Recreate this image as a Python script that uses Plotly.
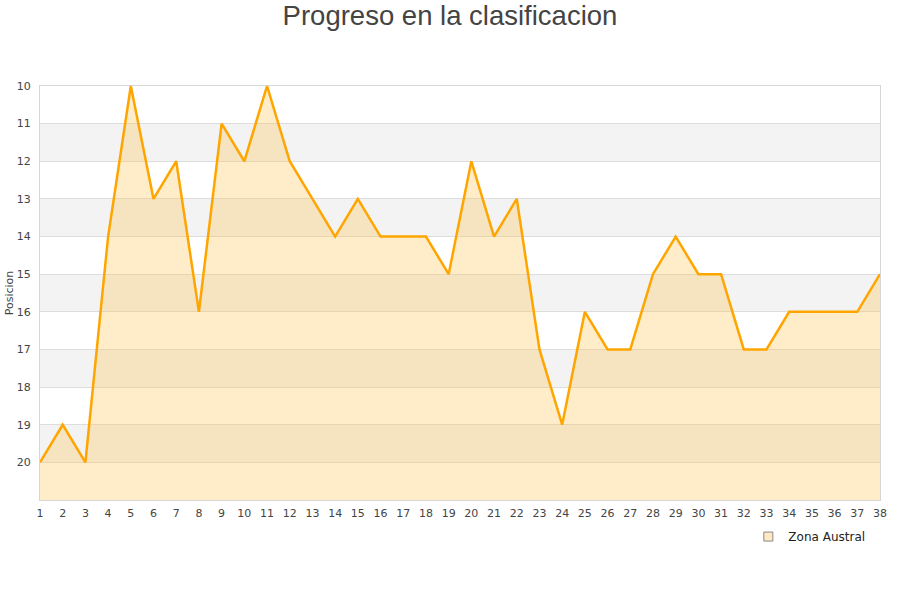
import plotly.graph_objects as go

jornadas = list(range(1, 39))
posiciones = [20, 19, 20, 14, 10, 13, 12, 16, 11, 12, 10, 12, 13, 14, 13, 14, 14, 14, 15, 12,
              14, 13, 17, 19, 16, 17, 17, 15, 14, 15, 15, 17, 17, 16, 16, 16, 16, 15]
y_ticks = list(range(10, 21))
y_bottom = 21
serie = "Zona Austral"
titulo = "Progreso en la clasificacion"

fig = go.Figure()

# baseline for fill
fig.add_trace(go.Scatter(x=jornadas, y=[y_bottom] * len(jornadas), mode="lines",
                         line=dict(width=0, color="rgba(0,0,0,0)"), showlegend=False, hoverinfo="skip"))
fig.add_trace(go.Scatter(x=jornadas, y=posiciones, mode="lines", name=serie,
                         fill="tonexty", fillcolor="rgba(255,195,80,0.3)",
                         line=dict(color="#FFA500", width=2.5), showlegend=False))
# legend entry
fig.add_trace(go.Scatter(x=[None], y=[None], mode="markers", name=serie,
                         marker=dict(symbol="square", size=9, color="#FFE8C2",
                                     line=dict(color="#888", width=1))))

shapes = []
for i, t in enumerate(y_ticks):
    if i % 2 == 1:
        shapes.append(dict(type="rect", xref="paper", x0=0, x1=1, yref="y", y0=t, y1=t + 1,
                           fillcolor="#F3F3F3", line=dict(width=0), layer="below"))

fig.update_layout(
    width=900, height=600,
    margin=dict(l=40, r=20, t=86, b=100, autoexpand=False),
    paper_bgcolor="white", plot_bgcolor="white",
    font=dict(family="DejaVu Sans", size=11, color="#444"),
    title=dict(text=titulo, x=0.5, xanchor="center", y=0.974, yanchor="middle",
               automargin=False,
               font=dict(family="Liberation Sans, Arial", size=27.5, color="#444")),
    shapes=shapes,
    showlegend=True,
    legend=dict(x=0.9885, xanchor="right", y=-0.0533, yanchor="top", orientation="h",
                font=dict(size=12, color="#222"), bgcolor="rgba(0,0,0,0)"),
    xaxis=dict(range=[1, 38], tickmode="array", tickvals=jornadas, showgrid=False,
               showline=True, linecolor="#D6D6D6", mirror=True, zeroline=False,
               ticks="outside", ticklen=3, tickcolor="rgba(0,0,0,0)", automargin=False,
               tickfont=dict(size=11, color="#444")),
    yaxis=dict(range=[y_bottom, 10], tickmode="array", tickvals=y_ticks,
               showgrid=True, gridcolor="#DDDDDD", gridwidth=1,
               showline=True, linecolor="#D6D6D6", mirror=True, zeroline=False,
               ticks="outside", ticklen=6, tickcolor="rgba(0,0,0,0)", automargin=False,
               tickfont=dict(size=11, color="#444"),
               title=dict(text="Posicion", font=dict(size=11, color="#444"), standoff=0)),
)

fig.write_html("out.html", config={"displayModeBar": False},
               post_script="document.body.style.margin='0';")
